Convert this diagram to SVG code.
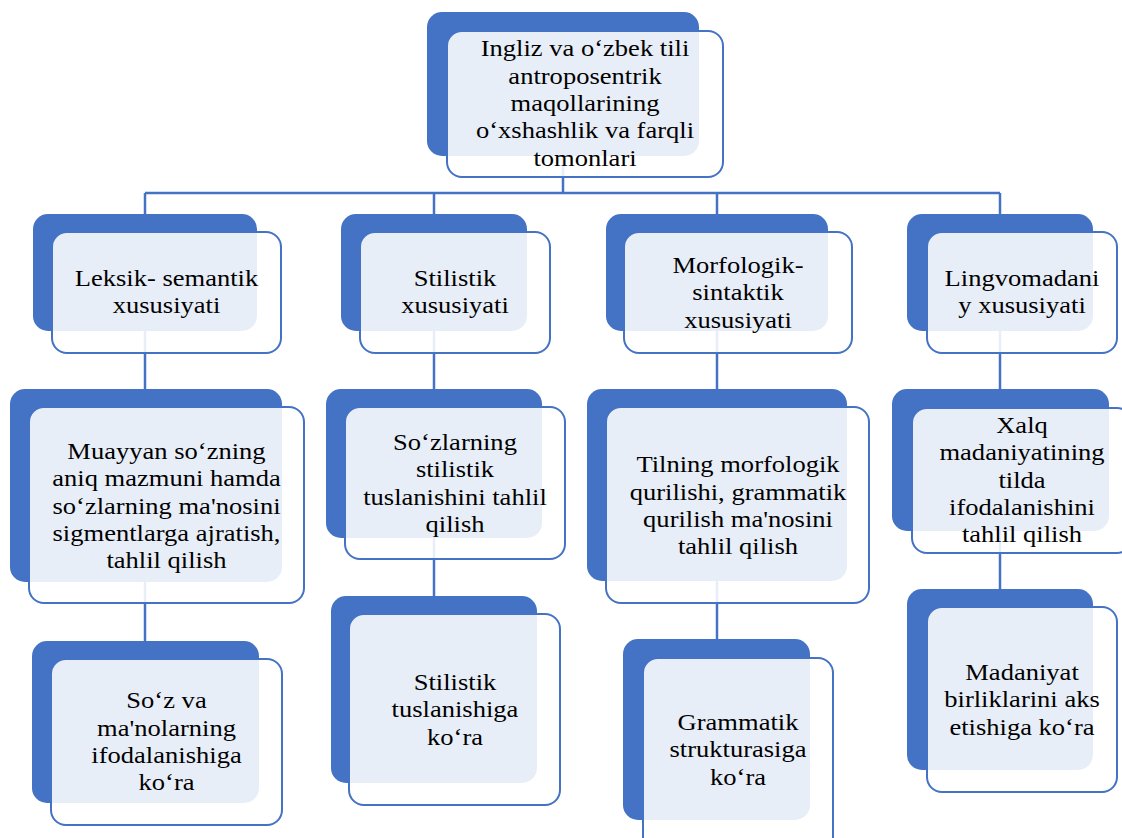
<svg xmlns="http://www.w3.org/2000/svg" width="1122" height="838" viewBox="0 0 1122 838">
<style>
.b{fill:#4472C4;}
.f{fill:#FFFFFF;fill-opacity:0.88;stroke:#4472C4;stroke-width:2;}
.c{stroke:#4472C4;stroke-width:2.5;fill:none;}
text{font-family:"Liberation Serif","Times New Roman",serif;font-size:23.7px;fill:#000;text-anchor:middle;}
</style>
<rect width="1122" height="838" fill="#FFFFFF"/>
<g id="connectors">
<line class="c" x1="563" y1="150" x2="563" y2="193"/>
<line class="c" x1="145" y1="193" x2="1000" y2="193"/>
<line class="c" x1="145" y1="193" x2="145" y2="220"/>
<line class="c" x1="434" y1="193" x2="434" y2="220"/>
<line class="c" x1="717" y1="193" x2="717" y2="220"/>
<line class="c" x1="1000" y1="193" x2="1000" y2="220"/>
<line class="c" x1="145" y1="325" x2="145" y2="395"/>
<line class="c" x1="145" y1="575" x2="145" y2="647"/>
<line class="c" x1="434" y1="325" x2="434" y2="395"/>
<line class="c" x1="434" y1="532" x2="434" y2="602"/>
<line class="c" x1="717" y1="325" x2="717" y2="395"/>
<line class="c" x1="717" y1="575" x2="717" y2="645"/>
<line class="c" x1="1000" y1="325" x2="1000" y2="395"/>
<line class="c" x1="1000" y1="525" x2="1000" y2="595"/>
</g>
<g id="top">
<rect class="b" x="427" y="12" width="272" height="144" rx="15"/>
<rect class="f" x="447" y="31" width="276" height="146" rx="15"/>
<text transform="translate(585 0) scale(1.12 1)"><tspan x="0" y="56.5">Ingliz va o‘zbek tili</tspan><tspan x="0" y="83.8">antroposentrik</tspan><tspan x="0" y="111.1">maqollarining</tspan><tspan x="0" y="138.4">o‘xshashlik va farqli</tspan><tspan x="0" y="165.7">tomonlari</tspan></text>
</g>
<g id="c1l1">
<rect class="b" x="33" y="214" width="224" height="117" rx="15"/>
<rect class="f" x="52" y="232" width="229" height="121" rx="15"/>
<text transform="translate(166.5 0) scale(1.12 1)"><tspan x="0" y="286.5">Leksik- semantik</tspan><tspan x="0" y="313.5">xususiyati</tspan></text>
</g>
<g id="c1l2">
<rect class="b" x="10" y="389" width="272" height="193" rx="15"/>
<rect class="f" x="29" y="407" width="275" height="196" rx="15"/>
<text transform="translate(166.5 0) scale(1.12 1)"><tspan x="0" y="459">Muayyan so‘zning</tspan><tspan x="0" y="486.3">aniq mazmuni hamda</tspan><tspan x="0" y="513.6">so‘zlarning ma'nosini</tspan><tspan x="0" y="540.9">sigmentlarga ajratish,</tspan><tspan x="0" y="568.2">tahlil qilish</tspan></text>
</g>
<g id="c1l3">
<rect class="b" x="32" y="641" width="227" height="162" rx="15"/>
<rect class="f" x="51" y="659" width="231" height="166" rx="15"/>
<text transform="translate(166.5 0) scale(1.12 1)"><tspan x="0" y="708.5">So‘z va</tspan><tspan x="0" y="735.8">ma'nolarning</tspan><tspan x="0" y="763.1">ifodalanishiga</tspan><tspan x="0" y="790.4">ko‘ra</tspan></text>
</g>
<g id="c2l1">
<rect class="b" x="341" y="214" width="186" height="117" rx="15"/>
<rect class="f" x="360" y="232" width="190" height="121" rx="15"/>
<text transform="translate(455 0) scale(1.12 1)"><tspan x="0" y="286.5">Stilistik</tspan><tspan x="0" y="313.5">xususiyati</tspan></text>
</g>
<g id="c2l2">
<rect class="b" x="326" y="389" width="216" height="149" rx="15"/>
<rect class="f" x="345" y="407" width="220" height="152" rx="15"/>
<text transform="translate(455 0) scale(1.12 1)"><tspan x="0" y="450">So‘zlarning</tspan><tspan x="0" y="477.3">stilistik</tspan><tspan x="0" y="504.6">tuslanishini tahlil</tspan><tspan x="0" y="531.9">qilish</tspan></text>
</g>
<g id="c2l3">
<rect class="b" x="331" y="596" width="206" height="187" rx="15"/>
<rect class="f" x="349" y="614" width="211" height="191" rx="15"/>
<text transform="translate(455 0) scale(1.12 1)"><tspan x="0" y="690">Stilistik</tspan><tspan x="0" y="717.3">tuslanishiga</tspan><tspan x="0" y="744.6">ko‘ra</tspan></text>
</g>
<g id="c3l1">
<rect class="b" x="606" y="214" width="222" height="117" rx="15"/>
<rect class="f" x="624" y="232" width="228" height="121" rx="15"/>
<text transform="translate(738 0) scale(1.12 1)"><tspan x="0" y="273">Morfologik-</tspan><tspan x="0" y="300.3">sintaktik</tspan><tspan x="0" y="327.6">xususiyati</tspan></text>
</g>
<g id="c3l2">
<rect class="b" x="587" y="389" width="260" height="192" rx="15"/>
<rect class="f" x="606" y="407" width="263" height="196" rx="15"/>
<text transform="translate(738 0) scale(1.12 1)"><tspan x="0" y="472.5">Tilning morfologik</tspan><tspan x="0" y="499.8">qurilishi, grammatik</tspan><tspan x="0" y="527.1">qurilish ma'nosini</tspan><tspan x="0" y="554.4">tahlil qilish</tspan></text>
</g>
<g id="c3l3">
<rect class="b" x="623" y="639" width="187" height="181" rx="15"/>
<rect class="f" x="643" y="658" width="190" height="195" rx="15"/>
<text transform="translate(738 0) scale(1.12 1)"><tspan x="0" y="730">Grammatik</tspan><tspan x="0" y="757.3">strukturasiga</tspan><tspan x="0" y="784.6">ko‘ra</tspan></text>
</g>
<g id="c4l1">
<rect class="b" x="907" y="214" width="186" height="117" rx="15"/>
<rect class="f" x="927" y="232" width="190" height="121" rx="15"/>
<text transform="translate(1022 0) scale(1.12 1)"><tspan x="0" y="286.5">Lingvomadani</tspan><tspan x="0" y="313.5">y xususiyati</tspan></text>
</g>
<g id="c4l2">
<rect class="b" x="892" y="389" width="217" height="142" rx="15"/>
<rect class="f" x="912" y="408" width="220" height="145" rx="15"/>
<text transform="translate(1022 0) scale(1.12 1)"><tspan x="0" y="433">Xalq</tspan><tspan x="0" y="460.3">madaniyatining</tspan><tspan x="0" y="487.6">tilda</tspan><tspan x="0" y="514.9">ifodalanishini</tspan><tspan x="0" y="542.2">tahlil qilish</tspan></text>
</g>
<g id="c4l3">
<rect class="b" x="907" y="589" width="186" height="181" rx="15"/>
<rect class="f" x="927" y="607" width="190" height="185" rx="15"/>
<text transform="translate(1022 0) scale(1.12 1)"><tspan x="0" y="680">Madaniyat</tspan><tspan x="0" y="707.3">birliklarini aks</tspan><tspan x="0" y="734.6">etishiga ko‘ra</tspan></text>
</g>
</svg>
